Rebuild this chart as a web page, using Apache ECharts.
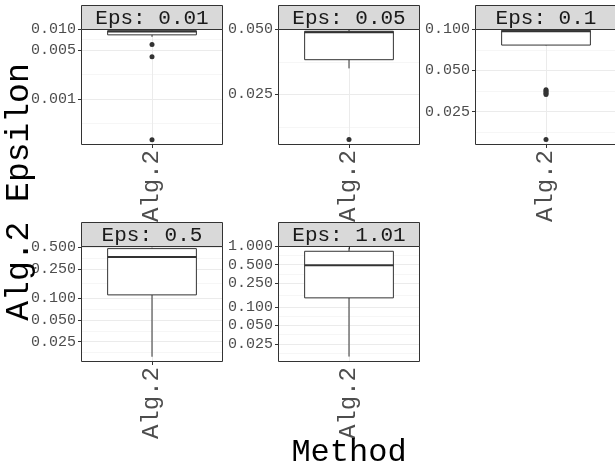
<!DOCTYPE html>
<html><head><meta charset="utf-8">
<script src="https://cdn.jsdelivr.net/npm/echarts@6.0.0/dist/echarts.min.js"></script>
<style>html,body{margin:0;padding:0;background:#fff}#c{width:615px;height:466px}</style>
</head><body><div id="c"></div>
<script>
// ---- data ----
const categories = ['Alg.2'];
const panelLabels = ['Eps: 0.01', 'Eps: 0.05', 'Eps: 0.1', 'Eps: 0.5', 'Eps: 1.01'];
// box stats: [lower whisker, Q1, median, Q3, upper whisker]
const box001 = [0.00775, 0.00828, 0.00925, 0.00948, 0.0099];
const box005 = [0.0330, 0.0362, 0.0485, 0.0490, 0.0498];
const box01  = [0.0760, 0.0765, 0.0965, 0.0980, 0.0995];
const box05  = [0.01555, 0.110, 0.365, 0.475, 0.490];
const box101 = [0.0154, 0.142, 0.488, 0.828, 0.952];
// outliers
const out001 = [0.00603, 0.00401, 0.000258];
const out005 = [0.01545];
const out01  = [0.0362, 0.0355, 0.0348, 0.0341, 0.0334, 0.0157];
const out05  = [];
const out101 = [];
// y tick labels
const ticks001 = [0.001, 0.005, 0.010];
const ticks005 = [0.025, 0.050];
const ticks01  = [0.025, 0.050, 0.100];
const ticks05  = [0.025, 0.050, 0.100, 0.250, 0.500];
const ticks101 = [0.025, 0.050, 0.100, 0.250, 0.500, 1.000];
// y axis limits
const yRange001 = [0.000217, 0.01005];
const yRange005 = [0.01459, 0.0502];
const yRange01  = [0.01429, 0.1002];
const yRange05  = [0.01317, 0.516];
const yRange101 = [0.01254, 1.011];
const xTitle = 'Method';
const yTitle = 'Alg.2 Epsilon';

// ---- layout ----
const FONT = '"Liberation Mono", monospace';
const W = 142, H = 116, STRIP = 24;
const pos = [[81, 29], [278, 29], [475, 29], [81, 246], [278, 246]];
const boxes = [box001, box005, box01, box05, box101];
const outs = [out001, out005, out01, out05, out101];
const ticks = [ticks001, ticks005, ticks01, ticks05, ticks101];
const ranges = [yRange001, yRange005, yRange01, yRange05, yRange101];
const L = Math.log10;

function minorBreaks(maj, lo, hi) {
  const b = maj.slice();
  const bd = b[1] - b[0];
  if (lo < b[0]) b.unshift(b[0] - bd);
  if (hi > b[b.length - 1]) b.push(b[b.length - 1] + bd);
  const m = [];
  for (let i = 0; i < b.length - 1; i++) m.push((b[i] + b[i + 1]) / 2);
  return m.filter(v => v > lo && v < hi);
}

function renderBox(params, api) {
  const c = api.value(0);
  const cx = api.coord([c, api.value(3)])[0];
  const hw = api.size([1, 0])[0] * 0.625 / 2;
  const y = k => api.coord([c, api.value(k)])[1];
  const yLo = y(1), yQ1 = y(2), yMed = y(3), yQ3 = y(4), yHi = y(5);
  const st = { stroke: '#333333', lineWidth: 1 };
  return { type: 'group', children: [
    { type: 'line', shape: { x1: cx, y1: yQ3, x2: cx, y2: yHi }, style: st },
    { type: 'line', shape: { x1: cx, y1: yQ1, x2: cx, y2: yLo }, style: st },
    { type: 'rect', shape: { x: cx - hw, y: yQ3, width: 2 * hw, height: yQ1 - yQ3 }, style: { fill: '#ffffff', stroke: '#333333', lineWidth: 1 } },
    { type: 'line', shape: { x1: cx - hw, y1: yMed, x2: cx + hw, y2: yMed }, style: { stroke: '#333333', lineWidth: 2 } }
  ]};
}

const grid = [], xAxis = [], yAxis = [], series = [], graphic = [];
pos.forEach((p, i) => {
  const lo = L(ranges[i][0]), hi = L(ranges[i][1]);
  const maj = ticks[i].map(L);
  grid.push({ left: p[0], top: p[1], width: W, height: H, show: false, outerBoundsMode: 'none', containLabel: false });
  xAxis.push({ type: 'category', gridIndex: i, data: categories, boundaryGap: true,
    axisLine: { show: false },
    axisTick: { show: true, alignWithLabel: true, length: 3, lineStyle: { color: '#333333' } },
    axisLabel: { rotate: 90, margin: 5, interval: 0, fontSize: 24, fontFamily: FONT, color: '#4d4d4d' },
    splitLine: { show: false } });
  xAxis.push({ type: 'value', gridIndex: i, min: 0, max: 2,
    axisLine: { show: false }, axisTick: { show: false, customValues: [1] }, axisLabel: { show: false },
    splitLine: { show: true, lineStyle: { color: '#ebebeb', width: 1 } } });
  yAxis.push({ type: 'value', gridIndex: i, min: lo, max: hi,
    axisLine: { show: false },
    axisTick: { show: true, length: 3, customValues: maj, lineStyle: { color: '#333333' } },
    axisLabel: { customValues: maj, formatter: v => Math.pow(10, v).toFixed(3), fontSize: 15, fontFamily: FONT, color: '#4d4d4d', margin: 5 },
    splitLine: { show: true, lineStyle: { color: '#ebebeb', width: 1 } } });
  yAxis.push({ type: 'value', gridIndex: i, min: lo, max: hi,
    axisLine: { show: false }, axisTick: { show: false, customValues: minorBreaks(maj, lo, hi) }, axisLabel: { show: false },
    splitLine: { show: true, lineStyle: { color: '#f0f0f0', width: 0.6 } } });
  series.push({ type: 'custom', xAxisIndex: 2 * i, yAxisIndex: 2 * i, z: 3, silent: true,
    renderItem: renderBox,
    encode: { x: 0, y: [1, 2, 3, 4, 5] },
    data: [[0].concat(boxes[i].map(L))] });
  series.push({ type: 'scatter', xAxisIndex: 2 * i, yAxisIndex: 2 * i, z: 4, silent: true,
    symbolSize: 5, itemStyle: { color: '#333333', opacity: 1 },
    data: outs[i].map(v => [0, L(v)]) });
  // panel border and strip
  graphic.push({ type: 'rect', z: 100, silent: true, shape: { x: p[0] + 0.5, y: p[1] + 0.5, width: W - 1, height: H - 1 },
    style: { fill: null, stroke: '#333333', lineWidth: 1 } });
  graphic.push({ type: 'rect', z: 100, silent: true, shape: { x: p[0] + 0.5, y: p[1] - STRIP + 0.5, width: W - 1, height: STRIP },
    style: { fill: '#d9d9d9', stroke: '#333333', lineWidth: 1 } });
  graphic.push({ type: 'text', z: 101, silent: true, x: p[0] + W / 2, y: p[1] - STRIP / 2 + 1,
    style: { text: panelLabels[i], font: '21px ' + FONT, fill: '#1a1a1a', align: 'center', verticalAlign: 'middle', textAlign: 'center', textVerticalAlign: 'middle' } });
});
graphic.push({ type: 'text', z: 101, silent: true, x: 19, y: 192, rotation: Math.PI / 2,
  style: { text: yTitle, font: '33px ' + FONT, fill: '#000000', align: 'center', verticalAlign: 'middle', textAlign: 'center', textVerticalAlign: 'middle' } });
graphic.push({ type: 'text', z: 101, silent: true, x: 349, y: 453,
  style: { text: xTitle, font: '32px ' + FONT, fill: '#000000', align: 'center', verticalAlign: 'middle', textAlign: 'center', textVerticalAlign: 'middle' } });

const chart = echarts.init(document.getElementById('c'), null, { renderer: 'canvas' });
chart.setOption({ animation: false, backgroundColor: '#ffffff', grid, xAxis, yAxis, series, graphic });
</script></body></html>
